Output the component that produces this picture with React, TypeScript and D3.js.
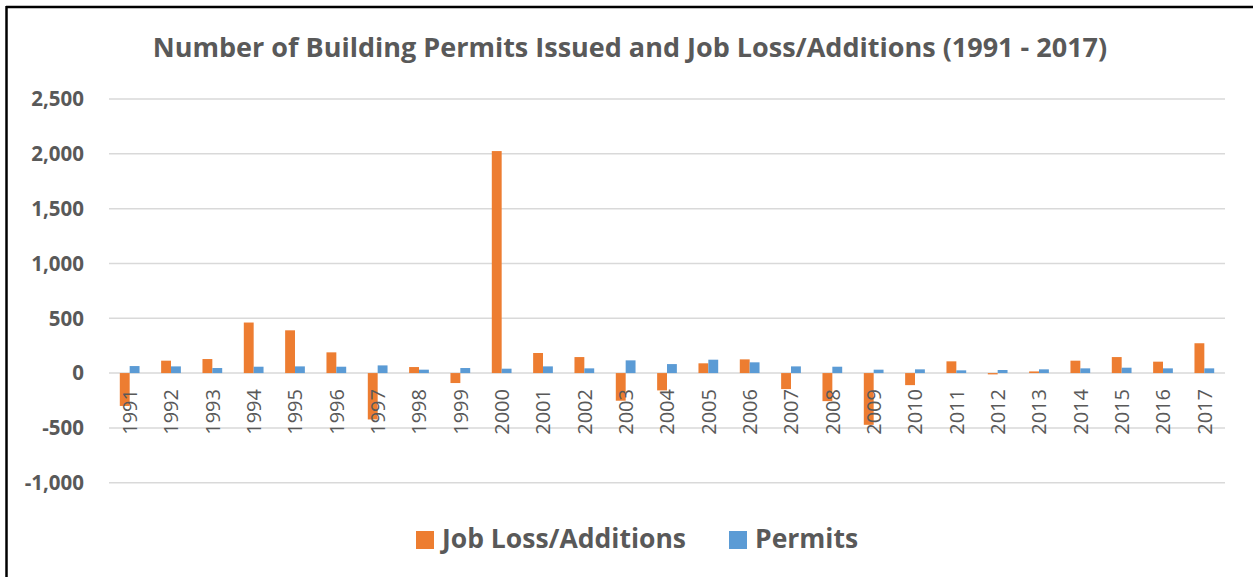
import React, { useEffect, useRef } from 'react';
import * as d3 from 'd3';

// categories + series
const years = ['1991', '1992', '1993', '1994', '1995', '1996', '1997', '1998', '1999', '2000',
  '2001', '2002', '2003', '2004', '2005', '2006', '2007', '2008', '2009', '2010',
  '2011', '2012', '2013', '2014', '2015', '2016', '2017'];
const jobs = [-300, 113, 128, 461, 390, 189, -423, 55, -91, 2025,
  183, 146, -252, -158, 89, 125, -146, -256, -472, -110,
  107, -12, 15, 113, 146, 104, 272];
const permits = [64, 61, 46, 58, 61, 58, 70, 31, 46, 40,
  61, 43, 116, 82, 122, 98, 61, 58, 31, 34,
  25, 28, 34, 43, 49, 43, 43];
const yTicks = [-1000, -500, 0, 500, 1000, 1500, 2000, 2500];
const seriesNames = ['Job Loss/Additions', 'Permits'];

const App = () => {
  const ref = useRef<SVGSVGElement | null>(null);

  useEffect(() => {
    const svg = d3.select(ref.current);
    svg.selectAll('*').remove();

    const W = 1253, H = 577;
    const left = 109, right = 1225;
    const grey = '#595959';
    const colors = ['#ED7D31', '#5B9BD5'];

    svg.append('rect').attr('width', W).attr('height', H).attr('fill', '#fff');

    // frame (only top + left visible)
    svg.append('line').attr('x1', 6).attr('x2', W).attr('y1', 7).attr('y2', 7)
      .attr('stroke', '#000').attr('stroke-width', 2.5);
    svg.append('line').attr('x1', 6.5).attr('x2', 6.5).attr('y1', 6).attr('y2', H)
      .attr('stroke', '#000').attr('stroke-width', 2.5);

    // title
    svg.append('text')
      .attr('x', 630).attr('y', 57)
      .attr('text-anchor', 'middle')
      .style('font-family', 'Open Sans')
      .style('font-weight', 700)
      .style('font-size', '27px')
      .attr('fill', grey)
      .text('Number of Building Permits Issued and Job Loss/Additions (1991 - 2017)');

    // scales
    var y = d3.scaleLinear().domain([-1000, 2500]).range([482.7, 99]);
    var x = d3.scaleBand().domain(years).range([left, right]).paddingInner(0).paddingOuter(0);
    // Excel gap width 219%
    var barW = x.bandwidth() / (2 + 2.19);
    var gap = barW * 2.19 / 2;

    // gridlines
    svg.append('g').selectAll('line')
      .data(yTicks)
      .enter().append('line')
      .attr('x1', left).attr('x2', right)
      .attr('y1', d => y(d)).attr('y2', d => y(d))
      .attr('stroke', '#D9D9D9').attr('stroke-width', 1.5);

    // y tick labels
    svg.append('g').selectAll('text')
      .data(yTicks)
      .enter().append('text')
      .attr('x', 84).attr('y', d => y(d))
      .attr('dy', '0.36em')
      .attr('text-anchor', 'end')
      .style('font-family', 'Open Sans')
      .style('font-weight', 700)
      .style('font-size', '20.5px')
      .attr('fill', grey)
      .text(d => d3.format(',')(d).replace('\u2212', '-'));

    // bars
    [jobs, permits].forEach((vals, s) => {
      svg.append('g').selectAll('rect')
        .data(vals)
        .enter().append('rect')
        .attr('x', (d, i) => (x(years[i]) as number) + gap + s * barW)
        .attr('y', d => y(Math.max(0, d)))
        .attr('width', barW)
        .attr('height', d => Math.abs(y(d) - y(0)))
        .attr('fill', colors[s]);
    });

    // year labels (rotated)
    svg.append('g').selectAll('text')
      .data(years)
      .enter().append('text')
      .attr('transform', d => 'translate(' + ((x(d) as number) + x.bandwidth() / 2) + ',389) rotate(-90)')
      .attr('dy', '0.36em')
      .attr('text-anchor', 'end')
      .style('font-family', 'Open Sans')
      .style('font-size', '20px')
      .attr('fill', grey)
      .text(d => d);

    // legend
    const legendX = [416, 729];
    seriesNames.forEach((name, i) => {
      svg.append('rect')
        .attr('x', legendX[i]).attr('y', 531)
        .attr('width', 18).attr('height', 18)
        .attr('fill', colors[i]);
      svg.append('text')
        .attr('x', legendX[i] + 26).attr('y', 548)
        .style('font-family', 'Open Sans')
        .style('font-weight', 700)
        .style('font-size', '26.5px')
        .attr('fill', grey)
        .text(name);
    });
  }, []);

  return (
    <svg ref={ref} width={1253} height={577}
      style={{ position: 'absolute', left: 0, top: 0 }} />
  );
};

export default App;
